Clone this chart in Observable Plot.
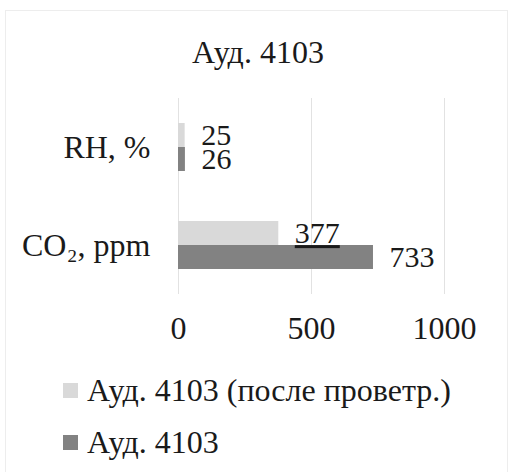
<!DOCTYPE html>
<html>
<head>
<meta charset="utf-8">
<script src="https://cdn.jsdelivr.net/npm/d3@7"></script>
<script src="https://cdn.jsdelivr.net/npm/@observablehq/plot@0.6"></script>
<style>
  body { margin: 0; background: #fff; }
  #chart { position: relative; width: 516px; height: 472px; overflow: hidden;
           font-family: "Liberation Serif", "Times New Roman", serif; color: #1a1a1a; background: #fff; }
  #frame { position: absolute; left: 5px; top: 10px; width: 503px; height: 480px; border: 1px solid #ededed; box-sizing: border-box; }
  #title { position: absolute; left: 0; top: 34px; width: 516px; text-align: center; font-size: 32px; line-height: 36px; }
  #plot { position: absolute; left: 0; top: 92px; }
  #legend { position: absolute; left: 63px; top: 364px; font-size: 32px; line-height: 52px; }
  .item { display: flex; align-items: center; height: 52px; white-space: nowrap; }
  .sw { width: 15px; height: 15px; margin-right: 9px; flex: none; }
</style>
</head>
<body>
<div id="chart">
  <div id="frame"></div>
  <div id="title"></div>
  <div id="plot"></div>
  <div id="legend"></div>
</div>
<script>
const title = "Ауд. 4103";
const categories = ["RH, %", "CO₂, ppm"];
const series = ["Ауд. 4103 (после проветр.)", "Ауд. 4103"];
const afterVent = [25, 377];
const before = [26, 733];
const xTicks = [0, 500, 1000];
const colors = ["#d9d9d9", "#828282"];

const data = [];
categories.forEach((c, i) => {
  data.push({category: c, series: series[0], value: afterVent[i]});
  data.push({category: c, series: series[1], value: before[i]});
});

document.getElementById("title").textContent = title;

const font = '"Liberation Serif", "Times New Roman", serif';
const chart = Plot.plot({
  width: 516,
  height: 258,
  marginLeft: 178,
  marginRight: 72,
  marginTop: 6,
  marginBottom: 56,
  style: {fontFamily: font, fontSize: "32px", color: "#1a1a1a", background: "transparent"},
  x: {domain: [0, 1000], ticks: xTicks, tickFormat: d => String(d), tickSize: 0, tickPadding: 22, label: null},
  y: {domain: series, axis: null, paddingInner: 0, paddingOuter: 1},
  fy: {domain: categories, label: null, tickSize: 0, tickPadding: 28, padding: 0, axis: "left"},
  color: {domain: series, range: colors},
  marks: [
    Plot.gridX(xTicks, {stroke: "#e2e2e2", strokeOpacity: 1}),
    Plot.barX(data, {fy: "category", y: "series", x: "value", fill: "series"}),
    Plot.text(data, {fy: "category", y: "series", x: "value", text: d => String(d.value),
      textAnchor: "start", dx: 16, fill: "#1a1a1a", fontSize: 30})
  ]
});
document.getElementById("plot").appendChild(chart);

// leader-line style underline on the moved label
d3.select(chart).selectAll("text")
  .filter(function() { return this.textContent === String(afterVent[1]); })
  .style("text-decoration", "underline")
  .style("text-decoration-thickness", "1.5px");

const legend = d3.select("#legend");
series.forEach((s, i) => {
  const item = legend.append("div").attr("class", "item");
  item.append("div").attr("class", "sw").style("background", colors[i]);
  item.append("span").text(s);
});
</script>
</body>
</html>
